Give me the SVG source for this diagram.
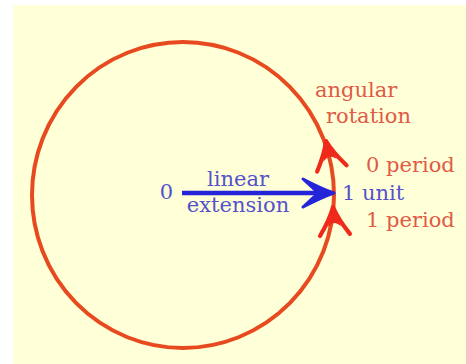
<svg xmlns="http://www.w3.org/2000/svg" width="466" height="364" viewBox="0 0 466 364">
<style>
.red{fill:#e05a48;font-family:"DejaVu Serif","Liberation Serif",serif;font-size:21px}
.blue{fill:#5552cc;font-family:"DejaVu Serif","Liberation Serif",serif;font-size:21px}
.rh{fill:none;stroke:#f02a1a;stroke-width:4.2;stroke-linecap:round;stroke-linejoin:round}
.rf{fill:#f02a1a;stroke:none}
.bh{fill:#2424d8;stroke:#2424d8;stroke-width:3;stroke-linecap:round;stroke-linejoin:round}
</style>
<defs>
<g id="head">
<path class="rf" d="M0,0 Q3,10 7,20 Q3,16 0,16 Q-3,16 -7,20 Q-3,10 0,0 Z"/>
<path class="rh" d="M-15,28 Q-4,12 0,0 Q4,12 15,28"/>
</g>
</defs>
<rect x="0" y="0" width="466" height="364" fill="#ffffff"/>
<rect x="13" y="5" width="453" height="359" fill="#ffffd8"/>
<g id="circle">
<ellipse cx="183" cy="195" rx="151" ry="153" fill="none" stroke="#e84a20" stroke-width="4"/>
</g>
<g id="connectors">
<line x1="182" y1="193" x2="325" y2="193" stroke="#2424d8" stroke-width="4.5"/>
<path class="bh" d="M303,179 Q322,189 334,193 Q322,197 303,207 Q314,197 318,193 Q314,189 303,179 Z"/>
<use href="#head" transform="translate(326,141) rotate(-12)"/>
<use href="#head" transform="translate(333,207) rotate(-4)"/>
</g>
<g id="labels">
<text class="blue" x="173" y="199" text-anchor="end">0</text>
<text class="blue" x="238" y="186" text-anchor="middle">linear</text>
<text class="blue" x="238" y="212" text-anchor="middle">extension</text>
<text class="blue" x="342" y="200">1 unit</text>
<text class="red" x="366" y="172">0 period</text>
<text class="red" x="366" y="227">1 period</text>
<text class="red" x="315" y="97">angular</text>
<text class="red" x="326" y="123">rotation</text>
</g>
</svg>
